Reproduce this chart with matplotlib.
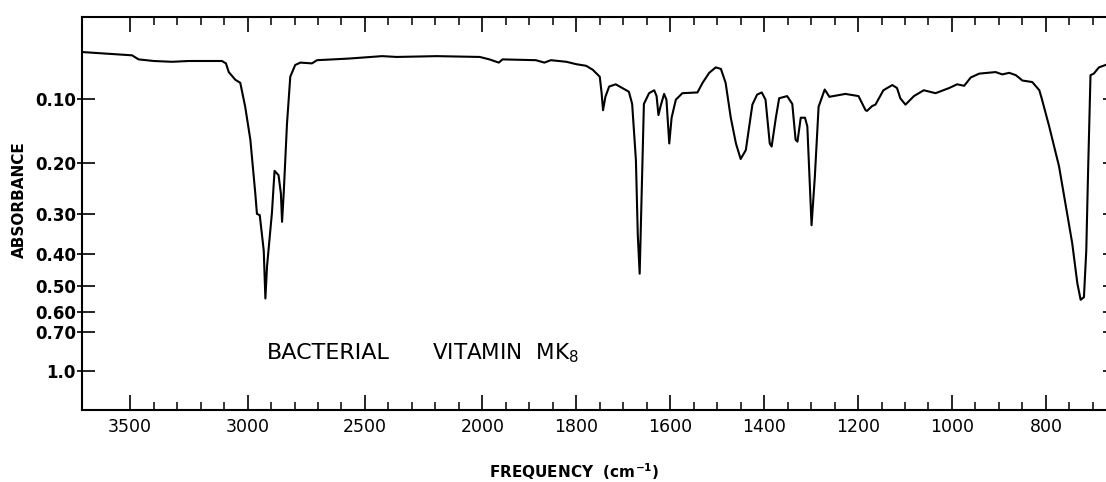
import numpy as np
import matplotlib
matplotlib.use("Agg")
import matplotlib.pyplot as plt
from matplotlib.ticker import FixedLocator, FixedFormatter

# ---- data (frequency in cm^-1, absorbance) ----
frequency = [3705, 3600, 3492, 3464, 3400, 3322, 3250, 3109, 3092, 3080, 3052, 3031,
             3010, 2988, 2967, 2960, 2948, 2931, 2924, 2917, 2896, 2885, 2868, 2858,
             2853, 2846, 2832, 2818, 2797, 2775, 2726, 2704, 2569, 2427, 2365, 2194,
             2011, 1985, 1965, 1957, 1886, 1868, 1854, 1821, 1800, 1779, 1765, 1750,
             1746, 1743, 1738, 1730, 1716, 1688, 1681, 1673, 1669, 1665, 1661, 1656,
             1645, 1634, 1629, 1625, 1620, 1613, 1608, 1602, 1597, 1588, 1574, 1542,
             1531, 1517, 1503, 1492, 1482, 1471, 1460, 1450, 1439, 1425, 1415, 1405,
             1397, 1388, 1384, 1375, 1368, 1351, 1340, 1333, 1329, 1322, 1313, 1308,
             1299, 1292, 1284, 1271, 1261, 1227, 1199, 1184, 1181, 1170, 1163, 1146,
             1127, 1117, 1110, 1099, 1081, 1060, 1035, 1006, 989, 974, 960, 942,
             907, 893, 878, 864, 850, 829, 814, 809, 793, 772, 758, 744,
             733, 726, 719, 714, 710, 705, 698, 687, 673]
absorbance = [0.039, 0.041, 0.043, 0.048, 0.050, 0.051, 0.050, 0.050, 0.053, 0.064, 0.074, 0.078,
              0.111, 0.161, 0.257, 0.300, 0.303, 0.390, 0.545, 0.435, 0.297, 0.214, 0.222, 0.257,
              0.318, 0.257, 0.136, 0.070, 0.055, 0.052, 0.053, 0.049, 0.047, 0.044, 0.045, 0.044,
              0.045, 0.048, 0.052, 0.048, 0.049, 0.052, 0.049, 0.051, 0.054, 0.056, 0.061, 0.070,
              0.092, 0.116, 0.097, 0.083, 0.080, 0.090, 0.107, 0.195, 0.350, 0.458, 0.270, 0.107,
              0.092, 0.088, 0.096, 0.123, 0.109, 0.093, 0.101, 0.167, 0.127, 0.101, 0.092, 0.091,
              0.078, 0.065, 0.058, 0.060, 0.078, 0.127, 0.167, 0.193, 0.178, 0.108, 0.094, 0.091,
              0.101, 0.167, 0.172, 0.127, 0.099, 0.096, 0.107, 0.161, 0.164, 0.127, 0.127, 0.140,
              0.326, 0.225, 0.111, 0.087, 0.097, 0.093, 0.096, 0.116, 0.117, 0.110, 0.108, 0.088,
              0.081, 0.085, 0.099, 0.108, 0.096, 0.088, 0.092, 0.085, 0.080, 0.082, 0.071, 0.066,
              0.064, 0.067, 0.065, 0.068, 0.075, 0.077, 0.088, 0.099, 0.140, 0.206, 0.280, 0.370,
              0.490, 0.550, 0.540, 0.390, 0.210, 0.068, 0.066, 0.058, 0.055]

x_major = [3500, 3000, 2500, 2000, 1800, 1600, 1400, 1200, 1000, 800]
x_major_labels = ["3500", "3000", "2500", "2000", "1800", "1600", "1400", "1200", "1000", "800"]
x_minor = [3400, 3300, 3200, 3100, 2900, 2800, 2700, 2600, 2400, 2300, 2200, 2100,
           1950, 1900, 1850, 1750, 1700, 1650, 1550, 1500, 1450, 1350, 1300, 1250,
           1150, 1100, 1050, 950, 900, 850, 750, 700]
y_ticks = [0.10, 0.20, 0.30, 0.40, 0.50, 0.60, 0.70, 1.0]
y_tick_labels = ["0.10", "0.20", "0.30", "0.40", "0.50", "0.60", "0.70", "1.0"]

title_text = "BACTERIAL"
title_text2 = "VITAMIN  MK$_8$"
x_label = "FREQUENCY  (cm$^{\\mathbf{-1}}$)"
y_label = "ABSORBANCE"


# ---- scales: IR chart paper (2x expansion below 2000 cm^-1, linear transmittance) ----
def x_fwd(v):
    v = np.asarray(v, dtype=float)
    return np.where(v >= 2000, v, 2 * v - 2000)


def x_inv(u):
    u = np.asarray(u, dtype=float)
    return np.where(u >= 2000, u, (u + 2000) / 2)


def y_fwd(a):
    a = np.asarray(a, dtype=float)
    return 1 - np.power(10.0, -a)


def y_inv(t):
    t = np.clip(np.asarray(t, dtype=float), -10, 1 - 1e-9)
    return -np.log10(1 - t)


W, H = 1106, 482
fig = plt.figure(figsize=(W / 100, H / 100), dpi=100)
ax = fig.add_axes([82 / W, (H - 410) / H, 1 - 82 / W, (410 - 17.3) / H])

ax.set_xscale("function", functions=(x_fwd, x_inv))
ax.set_yscale("function", functions=(y_fwd, y_inv))

ax.plot(frequency, absorbance, color="black", lw=1.5, solid_joinstyle="round")

ax.set_xlim(3705, 672)
ax.set_ylim(3.29, -0.0012)

ax.xaxis.set_major_locator(FixedLocator(x_major))
ax.xaxis.set_major_formatter(FixedFormatter(x_major_labels))
ax.xaxis.set_minor_locator(FixedLocator(x_minor))
ax.yaxis.set_major_locator(FixedLocator(y_ticks))
ax.yaxis.set_major_formatter(FixedFormatter(y_tick_labels))
ax.yaxis.set_minor_locator(FixedLocator(y_ticks))
ax.yaxis.set_minor_formatter(FixedFormatter([""] * len(y_ticks)))
ax.yaxis.remove_overlapping_locs = False

ax.tick_params(axis="x", which="major", direction="in", length=11, width=1.2,
               top=True, bottom=True, pad=6, labelsize=12.5)
ax.tick_params(axis="x", which="minor", direction="in", length=5.5, width=1.1,
               top=True, bottom=True)
ax.tick_params(axis="y", which="major", direction="in", length=9, width=1.2,
               left=True, right=False, pad=4.5, labelsize=12)
ax.tick_params(axis="y", which="minor", direction="out", length=3.5, width=1.2,
               left=True, right=False)
for lab in ax.get_yticklabels():
    lab.set_fontweight("bold")

for side in ["left", "bottom", "top"]:
    ax.spines[side].set_linewidth(1.5)
ax.spines["right"].set_visible(False)

# small right-edge marks
ax2 = ax.twinx()
ax2.set_yscale("function", functions=(y_fwd, y_inv))
ax2.set_ylim(3.29, -0.0012)
ax2.yaxis.set_major_locator(FixedLocator(y_ticks))
ax2.tick_params(axis="y", which="both", direction="in", length=2.5, width=1.2,
                labelright=False, right=True)
ax2.yaxis.set_minor_locator(FixedLocator([]))
for s in ax2.spines.values():
    s.set_visible(False)

fig.text(266.7 / W, 1 - 359.3 / H, title_text, fontsize=16, ha="left", va="baseline")
fig.text(431.7 / W, 1 - 359.3 / H, title_text2, fontsize=15.5, ha="left", va="baseline")
fig.text(489.3 / W, 1 - 478.3 / H, x_label, fontsize=11, fontweight="bold",
         ha="left", va="baseline")
fig.text(19 / W, 1 - 200 / H, y_label, fontsize=11, fontweight="bold",
         rotation=90, ha="center", va="center")

fig.savefig("out.png", dpi=100)
